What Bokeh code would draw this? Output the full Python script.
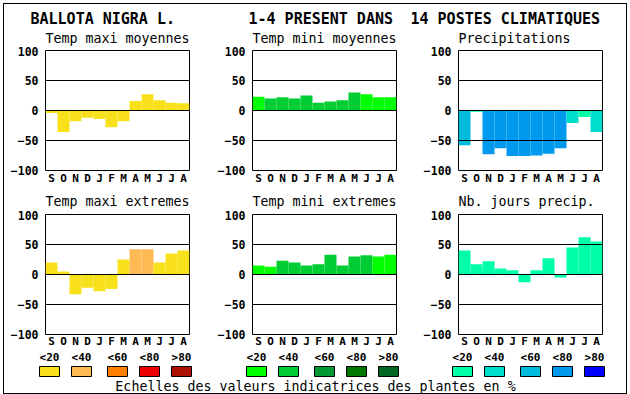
from bokeh.plotting import figure
from bokeh.layouts import column, row
from bokeh.models import Range1d, FixedTicker, Label
from bokeh.embed import file_html
from bokeh.resources import INLINE

MONO = "DejaVu Sans Mono"

# ---------------- data ----------------
months = ["S", "O", "N", "D", "J", "F", "M", "A", "M", "J", "J", "A"]
y_ticks = [-100, -50, 0, 50, 100]

titles = ["BALLOTA NIGRA L.", "1-4 PRESENT DANS", "14 POSTES CLIMATIQUES"]
row1_titles = ["Temp maxi moyennes", "Temp mini moyennes", "Precipitations"]
row2_titles = ["Temp maxi extremes", "Temp mini extremes", "Nb. jours precip."]

tmax_moy = [-4, -36, -18, -12, -14, -28, -18, 16, 27, 17, 13, 12]
tmax_moy_cls = [0, 0, 0, 0, 0, 0, 0, 0, 0, 0, 0, 0]
tmin_moy = [23, 20, 22, 20, 25, 13, 15, 17, 30, 27, 22, 22]
tmin_moy_cls = [0, 1, 1, 1, 1, 1, 1, 1, 1, 0, 0, 0]
precip = [-58, -2, -73, -63, -76, -76, -75, -72, -63, -21, -11, -36]
precip_cls = [2, 0, 3, 3, 3, 3, 3, 3, 3, 1, 0, 1]
tmax_ext = [20, 5, -33, -22, -28, -24, 25, 42, 42, 20, 35, 40]
tmax_ext_cls = [0, 0, 0, 0, 0, 0, 0, 1, 1, 0, 0, 0]
tmin_ext = [15, 13, 23, 20, 15, 17, 33, 15, 30, 32, 30, 33]
tmin_ext_cls = [0, 0, 1, 1, 1, 1, 1, 1, 1, 1, 0, 0]
jours = [40, 17, 22, 10, 7, -13, 7, 27, -5, 45, 62, 55]
jours_cls = [0, 0, 0, 0, 0, 0, 0, 0, 0, 0, 0, 0]

legend_labels = ["<20", "<40", "<60", "<80", ">80"]
warm = ["#F8E11B", "#FFB955", "#FF8000", "#EE0000", "#AA1100"]
greens = ["#00FF00", "#00CC33", "#009933", "#007700", "#006622"]
blues = ["#00FFAA", "#00DDCC", "#00BBDD", "#0099EE", "#0000FF"]

bottom_text = "Echelles des valeurs indicatrices des plantes en %"

# ---------------- layout geometry (page pixels) ----------------
PAGE_W, PAGE_H = 630, 394
col_w = [210, 198, 222]
col_left = [45, 42, 50]
panel_lefts = [45, 252, 458]
frame_w, frame_h = 144, 120
stripA_h = 46          # main title + row-1 subtitles
row1_top, row1_bottom, row1_std = 4, 20, 1
stripB_h = 20          # row-2 subtitles
row2_top, row2_bottom, row2_std = 4, 13, 0
y_row1 = stripA_h
y_stripB = y_row1 + row1_top + frame_h + row1_bottom
y_row2 = y_stripB + stripB_h
y_legend = y_row2 + row2_top + frame_h + row2_bottom
box_offsets = [4, 36, 72, 104, 136]


def panel(vals, cls, palette, ci, top, bottom, xstd):
    n = len(months)
    xs = [i + 0.5 for i in range(n)]
    p = figure(frame_width=frame_w, frame_height=frame_h, title=None,
               x_range=Range1d(0, n), y_range=Range1d(-100, 100),
               output_backend="svg", toolbar_location=None,
               min_border_left=col_left[ci], min_border_right=col_w[ci] - col_left[ci] - frame_w,
               min_border_top=top, min_border_bottom=bottom)
    p.vbar(x=xs, top=vals, bottom=0, width=1.0,
           fill_color=[palette[c] for c in cls], line_color=None)
    p.outline_line_color = "black"
    p.outline_line_width = 1
    p.outline_line_alpha = 1
    p.xgrid.visible = False
    p.ygrid.ticker = FixedTicker(ticks=y_ticks)
    p.ygrid.grid_line_color = "black"
    p.ygrid.grid_line_width = 1
    p.ygrid.level = "overlay"
    for ax in (p.xaxis[0], p.yaxis[0]):
        ax.axis_line_color = None
        ax.major_tick_line_color = None
        ax.minor_tick_line_color = None
        ax.major_tick_out = 0
        ax.major_tick_in = 0
        ax.minor_tick_out = 0
        ax.minor_tick_in = 0
        ax.axis_label_standoff = 0
        ax.major_label_text_font = MONO
        ax.major_label_text_font_style = "bold"
        ax.major_label_text_color = "black"
    ya = p.yaxis[0]
    ya.ticker = FixedTicker(ticks=y_ticks)
    ya.major_label_standoff = 7
    ya.major_label_text_font_size = "11.5px"
    xa = p.xaxis[0]
    xa.ticker = FixedTicker(ticks=xs)
    xa.major_label_overrides = {x: m for x, m in zip(xs, months)}
    xa.major_label_standoff = xstd
    xa.major_label_text_font_size = "11px"
    p.background_fill_color = None
    p.border_fill_color = None
    return p


def strip(y0, y1):
    f = figure(width=PAGE_W, height=y1 - y0, x_range=Range1d(0, PAGE_W), y_range=Range1d(y1, y0),
               output_backend="svg", toolbar_location=None, x_axis_type=None, y_axis_type=None,
               min_border=0, title=None)
    f.outline_line_color = None
    f.xgrid.visible = False
    f.ygrid.visible = False
    f.background_fill_color = None
    f.border_fill_color = None
    return f


def label(f, txt, x, y, size, style="normal", align="left"):
    f.add_layout(Label(x=x, y=y, text=txt, text_font=MONO, text_font_size=size,
                       text_font_style=style, text_baseline="middle", text_align=align,
                       text_color="black"))


# strip A: main title + row-1 subtitles
sA = strip(0, y_row1)
for txt, x in zip(titles, [30, 248, 410]):
    label(sA, txt, x, 18.5, "15px", "bold")
for txt, x in zip(row1_titles, panel_lefts):
    label(sA, txt, x, 38, "13.3px")

p1 = panel(tmax_moy, tmax_moy_cls, warm, 0, row1_top, row1_bottom, row1_std)
p2 = panel(tmin_moy, tmin_moy_cls, greens, 1, row1_top, row1_bottom, row1_std)
p3 = panel(precip, precip_cls, blues, 2, row1_top, row1_bottom, row1_std)

# strip B: row-2 subtitles
sB = strip(y_stripB, y_row2)
for txt, x in zip(row2_titles, panel_lefts):
    label(sB, txt, x, 201, "13.3px")

p4 = panel(tmax_ext, tmax_ext_cls, warm, 0, row2_top, row2_bottom, row2_std)
p5 = panel(tmin_ext, tmin_ext_cls, greens, 1, row2_top, row2_bottom, row2_std)
p6 = panel(jours, jours_cls, blues, 2, row2_top, row2_bottom, row2_std)

# legend strip
sL = strip(y_legend, PAGE_H)
for left, pal in zip(panel_lefts, [warm, greens, blues]):
    cx = [left + o for o in box_offsets]
    sL.rect(x=cx, y=368, width=20, height=10, fill_color=pal, line_color="black", line_width=1)
    sL.text(x=cx, y=[354] * len(cx), text=legend_labels, text_font={"value": MONO},
            text_font_size="11px", text_font_style="bold", text_align="center",
            text_baseline="middle", text_color="black")
label(sL, bottom_text, 315, 382.5, "13.3px", align="center")

layout = column(sA, row(p1, p2, p3), sB, row(p4, p5, p6), sL,
                styles={"outline": "1px solid black", "outline-offset": "-4px"})

open("out.html", "w").write(file_html(layout, INLINE))
